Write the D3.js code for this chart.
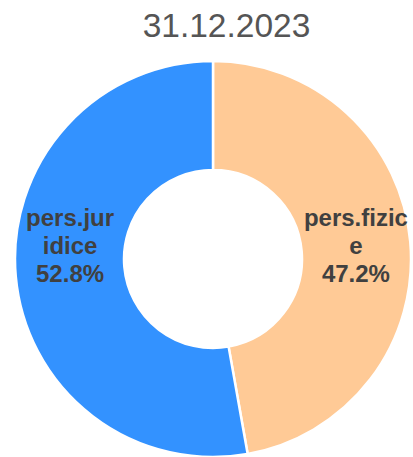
<!DOCTYPE html>
<html>
<head>
<meta charset="utf-8">
<script src="https://cdn.jsdelivr.net/npm/d3@7"></script>
<style>
  body { margin: 0; background: #fff; }
  svg { display: block; font-family: "Liberation Sans", Arial, sans-serif; }
</style>
</head>
<body>
<div id="chart"></div>
<script>
// data
const title = "31.12.2023";
const categories = ["pers.fizice", "pers.juridice"];
const values = [47.2, 52.8];
const labelLines = [["pers.fizic", "e"], ["pers.jur", "idice"]];
const colors = ["#ffca96", "#3392ff"];

const width = 413, height = 457;
const cx = 213, cy = 259;
const outerR = 198, innerR = 89;

const svg = d3.select("#chart")
  .append("svg")
  .attr("width", width)
  .attr("height", height);

svg.append("text")
  .attr("x", 226.5)
  .attr("y", 37)
  .attr("text-anchor", "middle")
  .style("font-size", "33.5px")
  .style("fill", "#555")
  .text(title);

const pie = d3.pie().sort(null).value(d => d);
const arcs = pie(values);
const arc = d3.arc().innerRadius(innerR).outerRadius(outerR);

const g = svg.append("g").attr("transform", `translate(${cx},${cy})`);

g.selectAll("path")
  .data(arcs)
  .join("path")
  .attr("d", arc)
  .attr("fill", (d, i) => colors[i])
  .attr("stroke", "#fff")
  .attr("stroke-width", 2.5);

const lineH = 28;
const lbl = g.selectAll("text.lbl")
  .data(arcs)
  .join("text")
  .attr("class", "lbl")
  .attr("text-anchor", "middle")
  .style("font-size", "24px")
  .style("font-weight", "bold")
  .style("fill", "#404040")
  .attr("transform", d => {
    const c = arc.centroid(d);
    return `translate(${c[0]},${-Math.abs(c[1])})`;
  });

lbl.each(function (d, i) {
  const lines = labelLines[i].concat([values[i].toFixed(1) + "%"]);
  const t = d3.select(this);
  const y0 = -(lines.length - 1) / 2 * lineH + 8;
  lines.forEach((s, k) => {
    t.append("tspan").attr("x", 0).attr("y", y0 + k * lineH).text(s);
  });
});
</script>
</body>
</html>
